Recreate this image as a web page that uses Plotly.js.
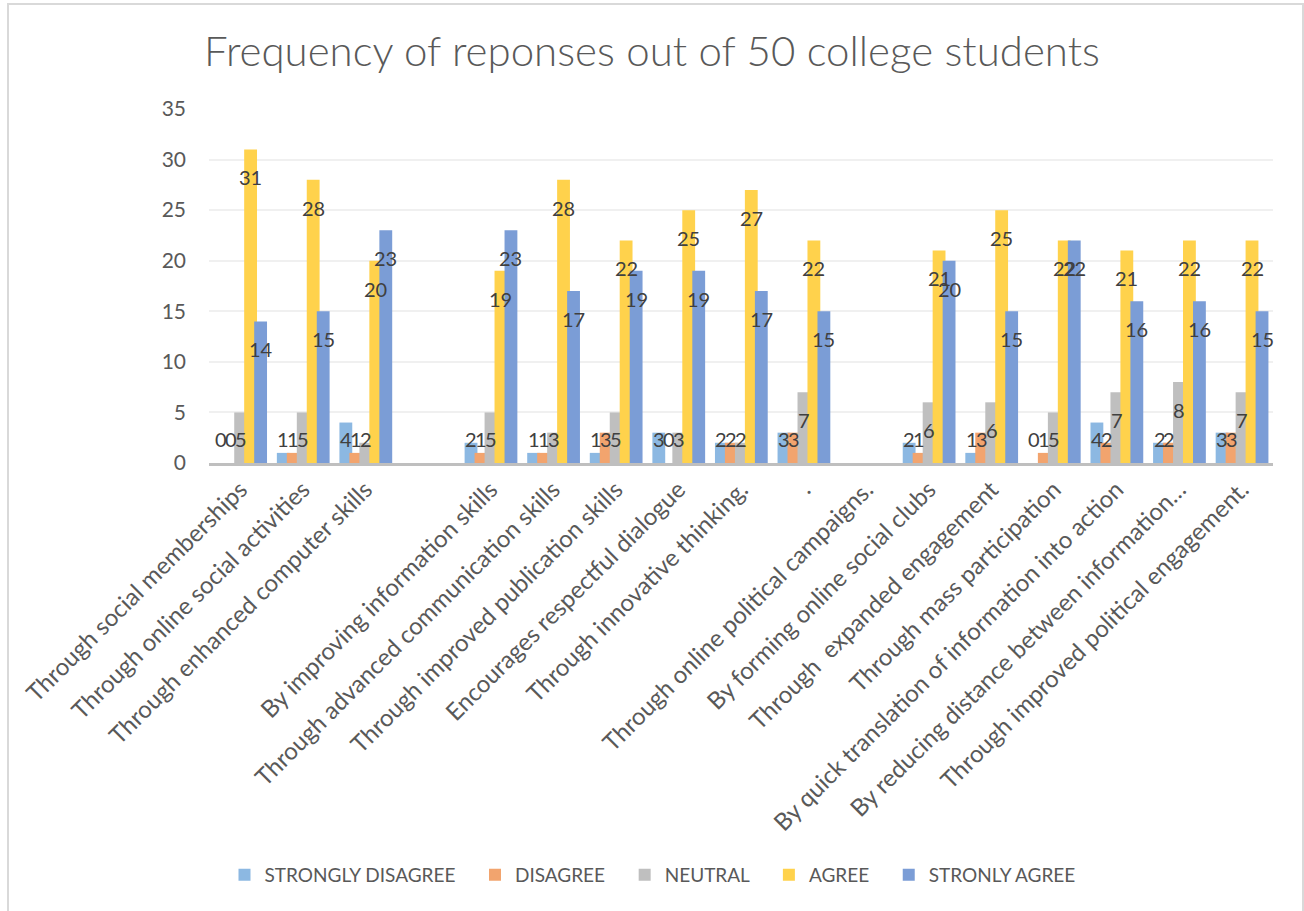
<!DOCTYPE html>
<html>
<head>
<meta charset="utf-8">
<script src="https://cdn.plot.ly/plotly-3.0.1.min.js"></script>
<style>
html,body{margin:0;padding:0;background:#fff;overflow:hidden;}
#chart{width:1304px;height:911px;}
#frame{position:absolute;left:7px;top:3px;width:1293px;height:930px;border:2px solid #D9D9D9;pointer-events:none;}
</style>
</head>
<body>
<div id="chart"></div>
<div id="frame"></div>
<script>
const categories = [
  "Through social memberships",
  "Through online social activities",
  "Through enhanced computer skills",
  " ",
  "By improving information skills",
  "Through advanced communication skills",
  "Through improved publication skills",
  "Encourages respectful dialogue",
  "Through innovative thinking.",
  ".",
  "Through online political campaigns.",
  "By forming online social clubs",
  "Through  expanded engagement",
  "Through mass participation",
  "By quick translation of information into action",
  "By reducing distance between information…",
  "Through improved political engagement."
];
const seriesNames = ["STRONGLY DISAGREE", "DISAGREE", "NEUTRAL", "AGREE", "STRONLY AGREE"];
const stronglyDisagree = [0, 1, 4, null, 2, 1, 1, 3, 2, 3, null, 2, 1, 0, 4, 2, 3];
const disagree         = [0, 1, 1, null, 1, 1, 3, 0, 2, 3, null, 1, 3, 1, 2, 2, 3];
const neutral          = [5, 5, 2, null, 5, 3, 5, 3, 2, 7, null, 6, 6, 5, 7, 8, 7];
const agree            = [31, 28, 20, null, 19, 28, 22, 25, 27, 22, null, 21, 25, 22, 21, 22, 22];
const stronglyAgree    = [14, 15, 23, null, 23, 17, 19, 19, 17, 15, null, 20, 15, 22, 16, 16, 15];

const series = [stronglyDisagree, disagree, neutral, agree, stronglyAgree];
const colors = ["#8CB8E2", "#F2A46E", "#BFBFBF", "#FFD24C", "#7B9DD6"];
const barWidth = 0.205;
const offsets = [-0.416, -0.257, -0.097, 0.062, 0.222];
const pad = "\u00A0\u00A0\u00A0";

const traces = series.map((vals, k) => ({
  type: "bar",
  name: seriesNames[k] + pad,
  x: categories,
  y: vals,
  width: barWidth,
  offset: offsets[k],
  marker: {color: colors[k]},
  hoverinfo: "x+y"
}));

const annotations = [];
series.forEach((vals, k) => {
  vals.forEach((v, i) => {
    if (v === null) return;
    annotations.push({
      xref: "x", yref: "y",
      x: i + offsets[k] + barWidth / 2,
      y: Math.max(v - 2.75, 2.4),
      text: String(v),
      showarrow: false,
      font: {family: "Lato, 'Open Sans', sans-serif", size: 20, color: "#404040"},
      xanchor: "center", yanchor: "middle"
    });
  });
});

const layout = {
  width: 1304, height: 911,
  paper_bgcolor: "#ffffff", plot_bgcolor: "#ffffff",
  margin: {l: 209, r: 31, t: 109, b: 448, autoexpand: false},
  barmode: "overlay",
  title: {
    text: "Frequency of reponses out of 50 college students",
    font: {family: "Lato, 'Open Sans', sans-serif", size: 42, color: "#595959", weight: 300},
    x: 0.5, xref: "container", xanchor: "center",
    y: 1 - 51 / 911, yref: "container", yanchor: "middle"
  },
  xaxis: {
    type: "category",
    tickmode: "linear", tick0: 0, dtick: 1,
    tickangle: -45,
    automargin: false,
    tickfont: {family: "Lato, 'Open Sans', sans-serif", size: 24, color: "#595959"},
    showline: true, linecolor: "#BFBFBF", linewidth: 3,
    showgrid: false, zeroline: false, ticks: "",
    range: [-0.5, categories.length - 0.5]
  },
  yaxis: {
    range: [0, 35], dtick: 5,
    automargin: false,
    tickfont: {family: "Lato, 'Open Sans', sans-serif", size: 21, color: "#595959"},
    showgrid: true, gridcolor: "#F0F0F0", gridwidth: 2,
    zeroline: false, showline: false, ticks: "",
    ticklabelstandoff: 22
  },
  legend: {
    orientation: "h",
    x: (660 - 209) / 1064, xanchor: "center",
    y: (463 - 875) / 354, yanchor: "middle",
    font: {family: "Lato, 'Open Sans', sans-serif", size: 19, color: "#595959"},
    traceorder: "normal"
  },
  annotations: annotations,
  showlegend: true
};

Plotly.newPlot("chart", traces, layout, {displayModeBar: false});
</script>
</body>
</html>
